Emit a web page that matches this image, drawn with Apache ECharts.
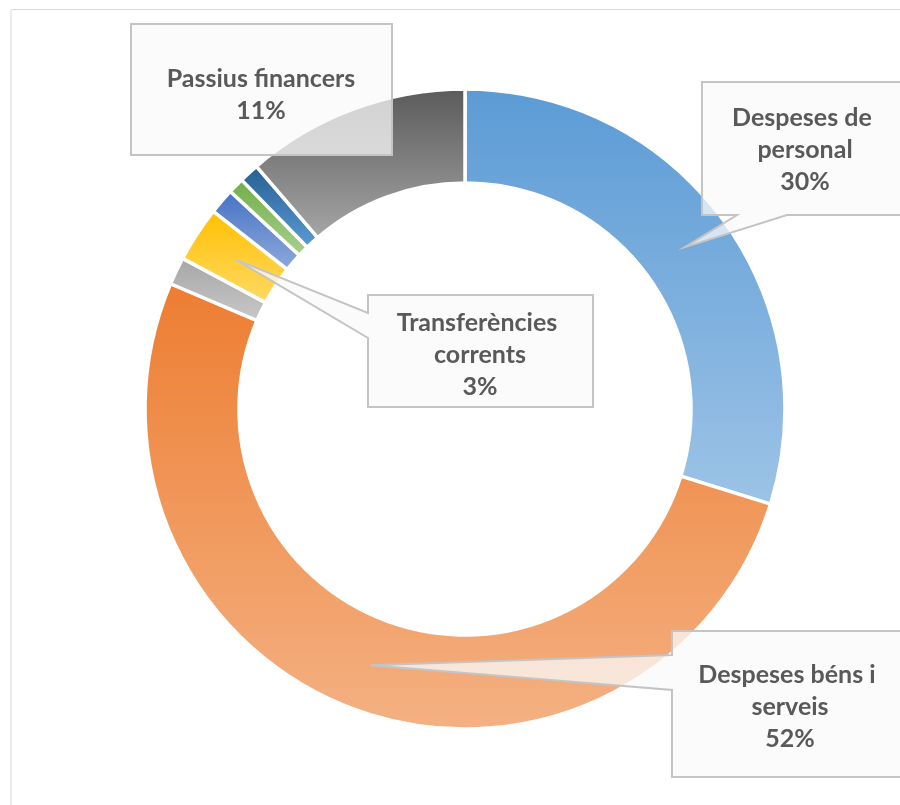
<!DOCTYPE html>
<html lang="ca">
<head>
    <meta charset="UTF-8" />
    <title>Despeses</title>
    <script src="https://cdn.jsdelivr.net/npm/echarts@6/dist/echarts.min.js"></script>
    <style>
        html, body { margin: 0; padding: 0; background: #fff; }
        #main { width: 900px; height: 805px; }
    </style>
</head>
<body>
    <div id="main"></div>
    <script>
        // data
        const categories = ['Despeses de personal', 'Despeses béns i serveis', 'Despeses financeres',
            'Transferències corrents', 'Inversions reals', 'Transferències de capital',
            'Actius financers', 'Passius financers'];
        const values = [29.8, 51.6, 1.4, 2.8, 1.3, 0.8, 1.0, 11.3];
        const topColors = ['#5B9BD5', '#ED7D31', '#A5A5A5', '#FFC000', '#4472C4', '#70AD47', '#255E91', '#5A5A5A'];
        const bottomColors = ['#9DC3E6', '#F4B183', '#C9C9C9', '#FFD966', '#8FAADC', '#A9D18E', '#5B9BD5', '#A6A6A6'];

        const cx = 465, cy = 409, r0 = 226, r1 = 320;

        var chart = echarts.init(document.getElementById('main'));

        let total = values.reduce((a, b) => a + b, 0);

        // mid point of a slice (angle clockwise from 12 o'clock)
        function tipOf(idx) {
            let before = 0;
            for (let i = 0; i < idx; i++) before += values[i];
            let mid = (before + values[idx] / 2) / total * Math.PI * 2;
            let r = (r0 + r1) / 2;
            return [cx + r * Math.sin(mid), cy - r * Math.cos(mid)];
        }

        function labelText(idx) {
            return categories[idx] + '\n' + Math.round(values[idx] / total * 100) + '%';
        }

        const boxStyle = { fill: 'rgba(250,250,250,0.75)', stroke: '#c4c4c4', lineWidth: 2 };
        const textStyle = {
            font: 'bold 25px Lato, "Open Sans", sans-serif',
            fill: '#595959',
            align: 'center',
            verticalAlign: 'middle',
            lineHeight: 32,
            overflow: 'break'
        };

        let tPers = tipOf(0), tBens = tipOf(1), tTrans = tipOf(3);

        let option = {
            backgroundColor: '#fff',
            animation: false,
            series: [{
                type: 'pie',
                center: [cx, cy],
                radius: [r0, r1],
                startAngle: 90,
                clockwise: true,
                label: { show: false },
                labelLine: { show: false },
                emphasis: { disabled: true },
                itemStyle: { borderColor: '#fff', borderWidth: 3.5 },
                data: categories.map((name, i) => ({
                    name: name,
                    value: values[i],
                    itemStyle: {
                        color: new echarts.graphic.LinearGradient(0, 0, 0, 1, [
                            { offset: 0, color: topColors[i] },
                            { offset: 1, color: bottomColors[i] }
                        ])
                    }
                }))
            }],
            graphic: {
                elements: [
                    {
                        type: 'rect', z: 1, silent: true,
                        shape: { x: 11, y: 9.5, width: 900, height: 820 },
                        style: { fill: null, stroke: '#d9d9d9', lineWidth: 1 }
                    },
                    // Passius financers
                    {
                        type: 'rect', z: 100,
                        shape: { x: 131, y: 24, width: 261, height: 131 },
                        style: boxStyle
                    },
                    {
                        type: 'text', z: 101,
                        style: Object.assign({}, textStyle, { x: 261, y: 95, width: 245, text: labelText(7) })
                    },
                    // Despeses de personal
                    {
                        type: 'polygon', z: 100,
                        shape: { points: [[702, 82], [912, 82], [912, 215], [787, 215], tPers, [737, 215], [702, 215]] },
                        style: boxStyle
                    },
                    {
                        type: 'text', z: 101,
                        style: Object.assign({}, textStyle, { x: 805, y: 150, width: 180, text: labelText(0) })
                    },
                    // Transferències corrents
                    {
                        type: 'polygon', z: 100,
                        shape: { points: [[368, 295], [593, 295], [593, 407], [368, 407], [368, 338], tTrans, [368, 313]] },
                        style: boxStyle
                    },
                    {
                        type: 'text', z: 101,
                        style: Object.assign({}, textStyle, { x: 480, y: 355, width: 205, text: labelText(3) })
                    },
                    // Despeses béns i serveis
                    {
                        type: 'polygon', z: 100,
                        shape: { points: [[672, 631], [912, 631], [912, 777], [672, 777], [672, 690], tBens, [672, 655]] },
                        style: boxStyle
                    },
                    {
                        type: 'text', z: 101,
                        style: Object.assign({}, textStyle, { x: 790, y: 707, width: 215, text: labelText(1) })
                    }
                ]
            }
        };

        chart.setOption(option);
    </script>
</body>
</html>
